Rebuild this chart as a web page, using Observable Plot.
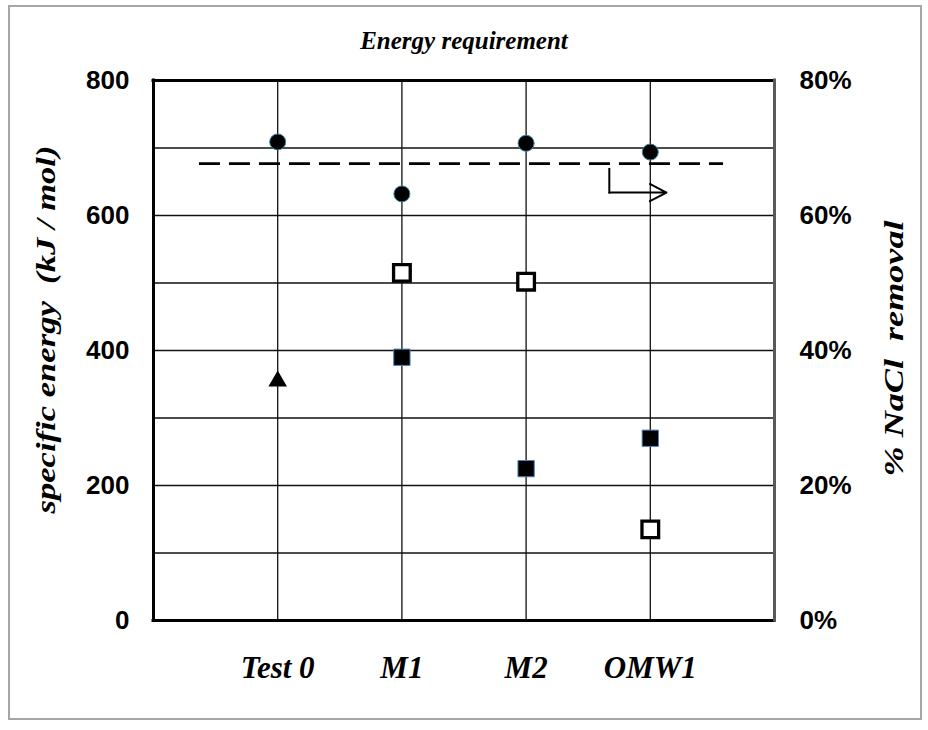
<!DOCTYPE html>
<html>
<head>
<meta charset="utf-8">
<script src="https://cdn.jsdelivr.net/npm/d3@7"></script>
<script src="https://cdn.jsdelivr.net/npm/@observablehq/plot@0.6"></script>
<style>
  body { margin: 0; background: #fff; }
  #wrap { position: relative; width: 928px; height: 730px; }
  #wrap svg { position: absolute; left: 0; top: 0; }
  #border { position: absolute; left: 8px; top: 5px; width: 910px; height: 711px; border: 2px solid #a6a6a6; pointer-events: none; }
</style>
</head>
<body>
<div id="wrap"></div>
<script>
// ---- data ----
const categories = ["Test 0", "M1", "M2", "OMW1"];
const energyOpen = [null, 515, 502, 135];      // open squares (kJ/mol)
const energyFilled = [null, 390, 225, 270];    // filled squares (kJ/mol)
const energyTriangle = [359, null, null, null]; // triangle (kJ/mol)
const removalPct = [70.9, 63.2, 70.7, 69.4];   // circles (% NaCl removal, right axis)
const removalReference = 67.7;                 // dashed line (% removal)
const referenceSpan = [0.37, 4.59];            // dashed line extent in category units
const arrowX = [3.67, 4.13];                   // elbow arrow: x of vertical leg, x of tip
const arrowPct = [66.9, 63.4];                 // elbow arrow: top and bottom (%)
const leftTicks = [0, 200, 400, 600, 800];
const rightTicks = ["0%", "20%", "40%", "60%", "80%"];
const gridValues = [100, 200, 300, 400, 500, 600, 700];
const title = "Energy requirement";
const yTitleLeft = "specific energy  (kJ / mol)";
const yTitleRight = "% NaCl  removal";

const pctToY = p => p * 10; // right axis 0–80% maps onto left axis 0–800

const rows = (vals) => vals.map((v, i) => ({x: i + 1, y: v})).filter(d => d.y != null);
const serif = "'Liberation Serif', 'Times New Roman', serif";

const chart = Plot.plot({
  width: 928,
  height: 730,
  marginLeft: 153,
  marginRight: 154,
  marginTop: 80,
  marginBottom: 110,
  style: {fontFamily: "'Liberation Sans', Arial, sans-serif", background: "transparent"},
  x: {domain: [0, 5], axis: null},
  y: {domain: [0, 800], axis: null},
  marks: [
    Plot.ruleY(gridValues, {stroke: "#111", strokeWidth: 1.3}),
    Plot.ruleX(categories.map((c, i) => i + 1), {stroke: "#111", strokeWidth: 1.3}),
    // frame
    Plot.ruleY([800], {stroke: "#000", strokeWidth: 3, strokeLinecap: "square"}),
    Plot.ruleY([0], {stroke: "#000", strokeWidth: 3, strokeLinecap: "square"}),
    Plot.ruleX([0], {stroke: "#000", strokeWidth: 3, strokeLinecap: "square"}),
    Plot.ruleX([5], {stroke: "#595959", strokeWidth: 3, strokeLinecap: "square"}),
    // axes
    Plot.axisY({ticks: leftTicks, tickSize: 0, tickPadding: 24, fontSize: 26, fontWeight: "bold", label: null, tickFormat: d => String(d)}),
    Plot.axisY({anchor: "right", ticks: leftTicks, tickSize: 0, tickPadding: 25, fontSize: 26, fontWeight: "bold", label: null,
      tickFormat: (d) => rightTicks[leftTicks.indexOf(d)]}),
    Plot.axisX({ticks: [1, 2, 3, 4], tickSize: 0, tickPadding: 35, fontSize: 31, fontWeight: "bold", fontStyle: "italic",
      fontFamily: serif, label: null, tickFormat: d => categories[d - 1]}),
    // reference dashed line
    Plot.ruleY([{y: pctToY(removalReference), x1: referenceSpan[0], x2: referenceSpan[1]}],
      {y: "y", x1: "x1", x2: "x2", stroke: "#000", strokeWidth: 2.8, strokeDasharray: "21,9"}),
    // elbow arrow pointing to right axis
    Plot.line([{x: arrowX[0], y: pctToY(arrowPct[0])}, {x: arrowX[0], y: pctToY(arrowPct[1])}],
      {x: "x", y: "y", stroke: "#000", strokeWidth: 2, strokeLinecap: "square"}),
    Plot.arrow([{x1: arrowX[0], y1: pctToY(arrowPct[1]), x2: arrowX[1], y2: pctToY(arrowPct[1])}],
      {x1: "x1", y1: "y1", x2: "x2", y2: "y2", stroke: "#000", strokeWidth: 2, headLength: 14, headAngle: 55}),
    // markers
    Plot.dot(rows(energyOpen), {x: "x", y: "y", symbol: "square", r: 9.4, fill: "white", stroke: "#000", strokeWidth: 3.3}),
    Plot.dot(rows(energyFilled), {x: "x", y: "y", symbol: "square", r: 9.2, fill: "#000", stroke: "#4f81bd", strokeWidth: 1}),
    Plot.dot(rows(energyTriangle), {x: "x", y: "y", symbol: "triangle", r: 6.9, fill: "#000", dy: 3}),
    Plot.dot(rows(removalPct.map(pctToY)), {x: "x", y: "y", r: 8, fill: "#000", stroke: "#31859c", strokeWidth: 1}),
    // titles
    Plot.text([title], {frameAnchor: "top", dy: -40, lineAnchor: "middle", textAnchor: "middle", fontSize: 25, fontWeight: "bold",
      fontStyle: "italic", fontFamily: serif, fill: "#000"}),
    Plot.text([yTitleLeft], {frameAnchor: "left", dx: -107, dy: -21, rotate: -90, lineAnchor: "middle", textAnchor: "middle",
      fontSize: 27, fontWeight: "bold", fontStyle: "italic", fontFamily: serif, fill: "#000", className: "ytl"}),
    Plot.text([yTitleRight], {frameAnchor: "right", dx: 120, dy: -2, rotate: -90, lineAnchor: "middle", textAnchor: "middle",
      fontSize: 27, fontWeight: "bold", fontStyle: "italic", fontFamily: serif, fill: "#000", className: "ytr"})
  ]
});

d3.select(chart).selectAll(".ytl text").attr("textLength", 368).attr("lengthAdjust", "spacingAndGlyphs");
d3.select(chart).selectAll(".ytr text").attr("textLength", 256).attr("lengthAdjust", "spacingAndGlyphs");

const wrap = document.getElementById("wrap");
wrap.appendChild(chart);
const border = document.createElement("div");
border.id = "border";
wrap.appendChild(border);
</script>
</body>
</html>
